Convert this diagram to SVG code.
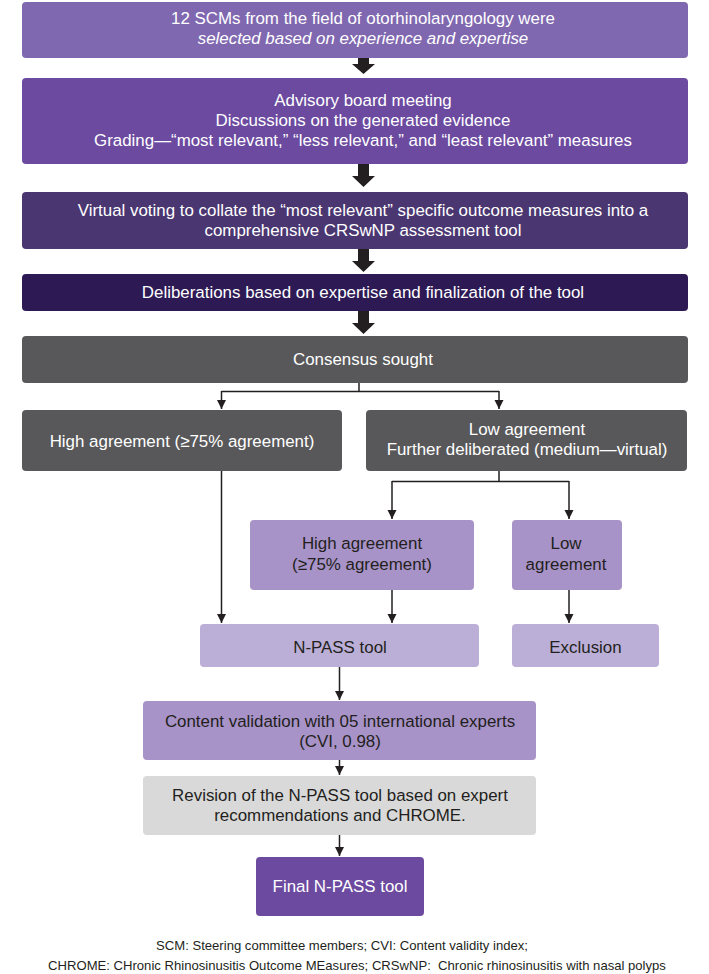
<svg xmlns="http://www.w3.org/2000/svg" width="709" height="974" viewBox="0 0 709 974">
<defs>
<style>
text{font-family:"Liberation Sans",Arial,sans-serif;font-size:16.9px;text-anchor:middle}
.w{fill:#ffffff}
.d{fill:#231f20}
.fn{font-size:13.1px;fill:#231f20}
.ln{fill:none;stroke:#231f20;stroke-width:1.5}
.big{fill:#231f20}
</style>
<marker id="ah" markerUnits="userSpaceOnUse" markerWidth="10" markerHeight="10" viewBox="0 0 10 10" refX="9" refY="5" orient="auto">
<path d="M0,0.5 L9,5 L0,9.5 Z" fill="#231f20"/>
</marker>
</defs>
<rect width="709" height="974" fill="#ffffff"/>

<g id="n1">
<rect x="22" y="2" width="666" height="56" rx="4" fill="#8068b0"/>
<text class="w" x="363" y="24">12 SCMs from the field of otorhinolaryngology were</text>
<text class="w" x="363" y="44" font-style="italic">selected based on experience and expertise</text>
</g>
<g id="n2">
<rect x="22" y="78" width="666" height="86" rx="4" fill="#6b4a9f"/>
<text class="w" x="363" y="106">Advisory board meeting</text>
<text class="w" x="363" y="126">Discussions on the generated evidence</text>
<text class="w" x="363" y="146">Grading—“most relevant,” “less relevant,” and “least relevant” measures</text>
</g>
<g id="n3">
<rect x="22" y="192" width="666" height="57" rx="4" fill="#4a3670"/>
<text class="w" x="363" y="216">Virtual voting to collate the “most relevant” specific outcome measures into a</text>
<text class="w" x="363" y="236">comprehensive CRSwNP assessment tool</text>
</g>
<g id="n4">
<rect x="22" y="274" width="666" height="37" rx="4" fill="#2d1a55"/>
<text class="w" x="363" y="298">Deliberations based on expertise and finalization of the tool</text>
</g>
<g id="n5">
<rect x="22" y="336" width="666" height="47" rx="4" fill="#58585a"/>
<text class="w" x="363" y="365">Consensus sought</text>
</g>
<g id="n6">
<rect x="22" y="410" width="320" height="61" rx="4" fill="#58585a"/>
<text class="w" x="182" y="447">High agreement (≥75% agreement)</text>
</g>
<g id="n7">
<rect x="366" y="410" width="321" height="61" rx="4" fill="#58585a"/>
<text class="w" x="527" y="435">Low agreement</text>
<text class="w" x="527" y="455">Further deliberated (medium—virtual)</text>
</g>
<g id="n8">
<rect x="250" y="520" width="224" height="70" rx="4" fill="#a893c8"/>
<text class="d" x="362" y="549">High agreement</text>
<text class="d" x="362" y="570">(≥75% agreement)</text>
</g>
<g id="n9">
<rect x="512" y="520" width="110" height="70" rx="4" fill="#a893c8"/>
<text class="d" x="566" y="549">Low</text>
<text class="d" x="566" y="570">agreement</text>
</g>
<g id="n10">
<rect x="200" y="624" width="279" height="43" rx="4" fill="#bcafd7"/>
<text class="d" x="340" y="653">N-PASS tool</text>
</g>
<g id="n11">
<rect x="512" y="624" width="147" height="43" rx="4" fill="#bcafd7"/>
<text class="d" x="585.5" y="653">Exclusion</text>
</g>
<g id="n12">
<rect x="143" y="701" width="393" height="59" rx="4" fill="#a893c8"/>
<text class="d" x="340" y="727">Content validation with 05 international experts</text>
<text class="d" x="340" y="747">(CVI, 0.98)</text>
</g>
<g id="n13">
<rect x="143" y="776" width="393" height="59" rx="4" fill="#d9d9d9"/>
<text class="d" x="340" y="801">Revision of the N-PASS tool based on expert</text>
<text class="d" x="340" y="821">recommendations and CHROME.</text>
</g>
<g id="n14">
<rect x="256" y="857" width="168" height="59" rx="4" fill="#6b4a9f"/>
<text class="w" x="340" y="892">Final N-PASS tool</text>
</g>

<g id="connectors">
<polygon class="big" points="358,58 369,58 369,64 375,64 363.5,74 352,64 358,64"/>
<polygon class="big" points="358,164 369,164 369,176 375,176 363.5,187 352,176 358,176"/>
<polygon class="big" points="358,249 369,249 369,261 375,261 363.5,272 352,261 358,261"/>
<polygon class="big" points="358,311 369,311 369,323 375,323 363.5,334 352,323 358,323"/>
<path class="ln" d="M359,383 V391.5"/>
<path class="ln" d="M221.5,391.5 H499" />
<path class="ln" d="M221.5,391 V409" marker-end="url(#ah)"/>
<path class="ln" d="M499,391 V409" marker-end="url(#ah)"/>
<path class="ln" d="M221.5,471 V623" marker-end="url(#ah)"/>
<path class="ln" d="M499,471 V481.5"/>
<path class="ln" d="M392,481.5 H569"/>
<path class="ln" d="M392,481 V519" marker-end="url(#ah)"/>
<path class="ln" d="M569,481 V519" marker-end="url(#ah)"/>
<path class="ln" d="M392,590 V623" marker-end="url(#ah)"/>
<path class="ln" d="M569,590 V623" marker-end="url(#ah)"/>
<path class="ln" d="M339.5,667 V700" marker-end="url(#ah)"/>
<path class="ln" d="M339.5,760 V775" marker-end="url(#ah)"/>
<path class="ln" d="M339.5,835 V856" marker-end="url(#ah)"/>
</g>

<g id="footnote">
<text class="fn" x="342" y="950">SCM: Steering committee members; CVI: Content validity index;</text>
<text class="fn" x="357" y="970" xml:space="preserve">CHROME: CHronic Rhinosinusitis Outcome MEasures; CRSwNP:  Chronic rhinosinusitis with nasal polyps</text>
</g>
</svg>
